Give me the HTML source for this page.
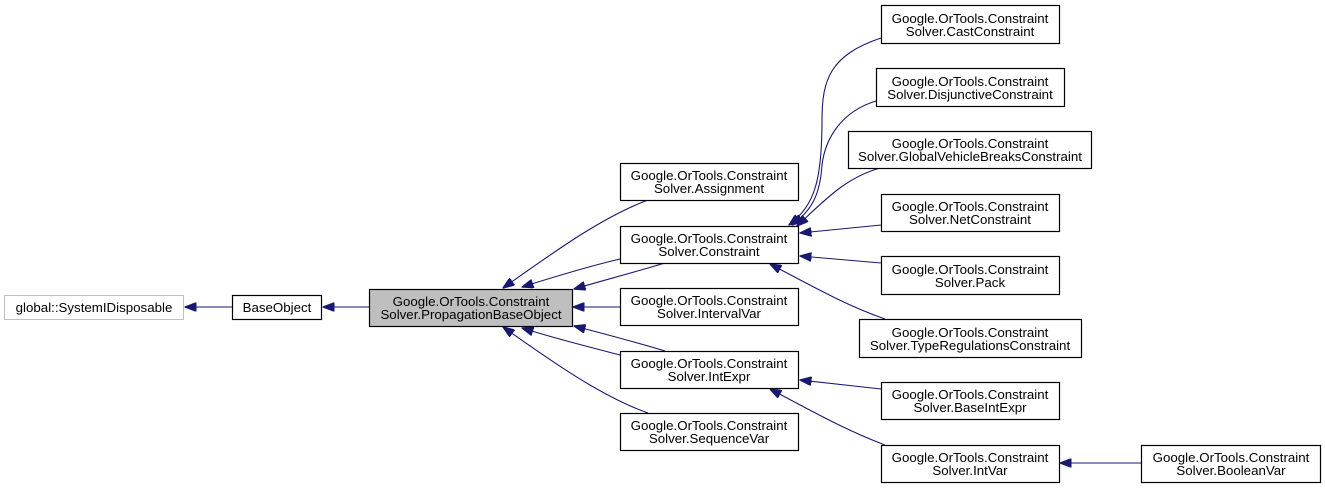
<!DOCTYPE html>
<html><head><meta charset="utf-8"><style>
body{margin:0;background:#fff;}
svg{display:block}
text{font-family:"Liberation Sans",Arial,sans-serif;font-size:13.3px;fill:#000;text-anchor:middle}
.b{fill:#fff;stroke:#000;stroke-width:1.2}
.e{fill:none;stroke:#191970;stroke-width:1.1}
</style></head><body>
<svg width="1325" height="488" viewBox="0 0 1325 488">
<defs><marker id="a" markerWidth="12" markerHeight="9" refX="11.5" refY="4.5" orient="auto" markerUnits="userSpaceOnUse"><path d="M0,0 L12,4.5 L0,9 Z" fill="#191970" stroke="#191970"/></marker></defs>
<g class="e" marker-end="url(#a)">
<path d="M232,307 L185,307"/>
<path d="M369,307 L323,307"/>
<path d="M648,200 C600,218 550,255 503,288"/>
<path d="M620,259 C590,266 560,275 522,287"/>
<path d="M665,263 C635,272 605,280 574,289"/>
<path d="M620,307 L573,307"/>
<path d="M665,351 C635,342 605,334 574,326"/>
<path d="M620,355 C590,347 560,340 522,328"/>
<path d="M648,413 C600,396 550,360 503,327"/>
<path d="M881,38 C830,55 822,80 822,120 C822,180 815,205 789,225"/>
<path d="M876,101 C840,112 825,140 822,165 C820,195 812,210 792,225"/>
<path d="M880,168 C845,178 825,200 797,226"/>
<path d="M881,225 L800,233"/>
<path d="M881,263 L800,256"/>
<path d="M885,319 C845,305 810,285 770,264"/>
<path d="M881,389 L800,380"/>
<path d="M885,445 C845,430 810,410 770,389"/>
<path d="M1141,463 L1060,463"/>
</g>
<rect x="4.5" y="295.5" width="179" height="24" fill="#fff" stroke="#bfbfbf"/>
<text x="94" y="312">global::SystemIDisposable</text>
<rect class="b" x="232.5" y="295.5" width="89" height="24"/>
<text x="277" y="312">BaseObject</text>
<rect x="369.5" y="289.5" width="203" height="37" fill="#bfbfbf" stroke="#000" stroke-width="1.2"/>
<text x="471" y="306">Google.OrTools.Constraint</text><text x="471" y="319">Solver.PropagationBaseObject</text>
<g>
<rect class="b" x="620.5" y="163.5" width="178" height="37"/><text x="709" y="180">Google.OrTools.Constraint</text><text x="709" y="193">Solver.Assignment</text>
<rect class="b" x="620.5" y="226.5" width="178" height="37"/><text x="709" y="243">Google.OrTools.Constraint</text><text x="709" y="256">Solver.Constraint</text>
<rect class="b" x="620.5" y="288.5" width="178" height="37"/><text x="709" y="305">Google.OrTools.Constraint</text><text x="709" y="318">Solver.IntervalVar</text>
<rect class="b" x="620.5" y="351.5" width="178" height="37"/><text x="709" y="368">Google.OrTools.Constraint</text><text x="709" y="381">Solver.IntExpr</text>
<rect class="b" x="620.5" y="413.5" width="178" height="37"/><text x="709" y="430">Google.OrTools.Constraint</text><text x="709" y="443">Solver.SequenceVar</text>
</g>
<g>
<rect class="b" x="881.5" y="5.5" width="178" height="38"/><text x="970" y="23">Google.OrTools.Constraint</text><text x="970" y="36">Solver.CastConstraint</text>
<rect class="b" x="876.5" y="68.5" width="188" height="38"/><text x="970" y="86">Google.OrTools.Constraint</text><text x="970" y="99">Solver.DisjunctiveConstraint</text>
<rect class="b" x="848.5" y="131.5" width="243" height="37"/><text x="970" y="148">Google.OrTools.Constraint</text><text x="970" y="161">Solver.GlobalVehicleBreaksConstraint</text>
<rect class="b" x="881.5" y="194.5" width="178" height="37"/><text x="970" y="211">Google.OrTools.Constraint</text><text x="970" y="224">Solver.NetConstraint</text>
<rect class="b" x="881.5" y="256.5" width="178" height="38"/><text x="970" y="274">Google.OrTools.Constraint</text><text x="970" y="287">Solver.Pack</text>
<rect class="b" x="859.5" y="319.5" width="222" height="38"/><text x="970" y="337">Google.OrTools.Constraint</text><text x="970" y="350">Solver.TypeRegulationsConstraint</text>
<rect class="b" x="881.5" y="382.5" width="178" height="37"/><text x="970" y="399">Google.OrTools.Constraint</text><text x="970" y="412">Solver.BaseIntExpr</text>
<rect class="b" x="881.5" y="445.5" width="178" height="37"/><text x="970" y="462">Google.OrTools.Constraint</text><text x="970" y="475">Solver.IntVar</text>
<rect class="b" x="1141.5" y="445.5" width="179" height="37"/><text x="1231" y="462">Google.OrTools.Constraint</text><text x="1231" y="475">Solver.BooleanVar</text>
</g>
</svg>
</body></html>
